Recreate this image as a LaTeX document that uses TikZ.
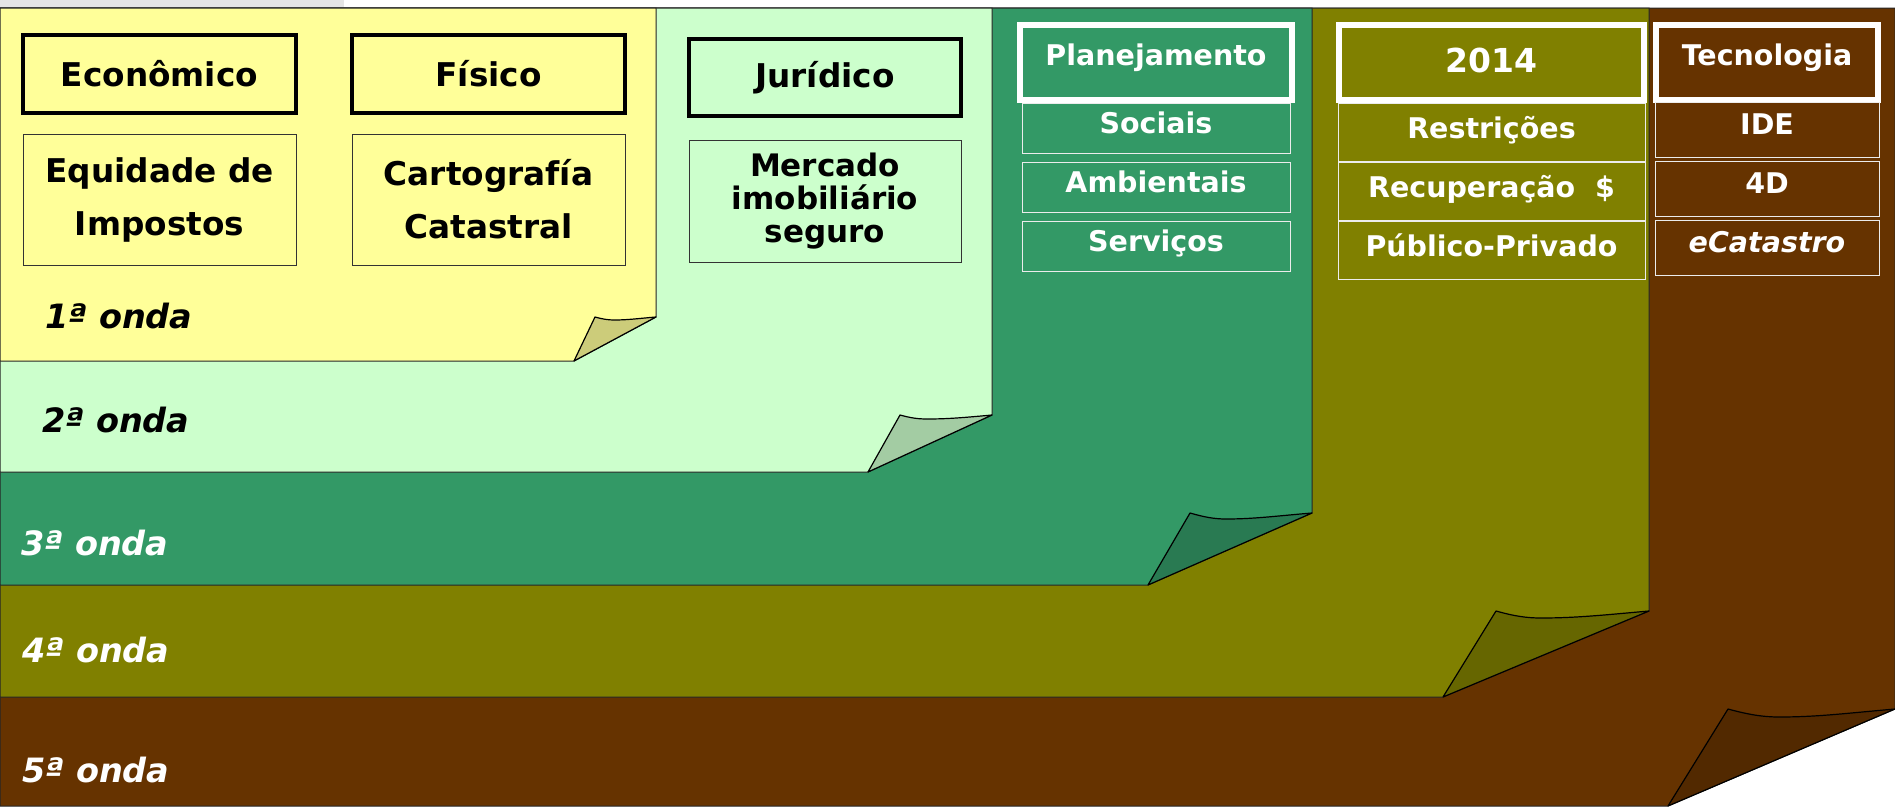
\documentclass[tikz,border=0pt]{standalone}
\usepackage{fontspec}
\setmainfont{DejaVu Sans}
\usepackage{xcolor}
\definecolor{onda1}{HTML}{FFFF99}
\definecolor{onda2}{HTML}{CCFFCC}
\definecolor{onda3}{HTML}{339966}
\definecolor{onda4}{HTML}{808000}
\definecolor{onda5}{HTML}{663300}
\tikzstyle{sheet} = [draw=black!85, line width=1pt]
\tikzstyle{curl} = [draw=black, line width=1.2pt, line join=round]
\tikzstyle{header} = [rectangle, draw=black, line width=4.5pt, minimum width=273pt, minimum height=78pt, inner sep=0pt, font=\fontsize{32.7}{36}\selectfont\bfseries]
\tikzstyle{topic} = [rectangle, draw=black!80, line width=1pt, minimum width=273pt, minimum height=131pt, inner sep=0pt, align=center, font=\fontsize{32.7}{53}\selectfont\bfseries]
\tikzstyle{whitehead} = [rectangle, draw=white, line width=6pt, inner sep=0pt, text=white, text height=40pt, text depth=35pt, font=\fontsize{28.5}{30}\selectfont\bfseries]
\tikzstyle{item} = [rectangle, draw=white!85!gray, line width=1pt, inner sep=0pt, text=white, font=\fontsize{28.5}{30}\selectfont\bfseries]
\tikzstyle{wave} = [anchor=base west, inner sep=0pt, font=\fontsize{33.5}{36}\selectfont\bfseries\itshape]

\begin{document}
\begin{tikzpicture}[x=1pt, y=-1pt]
    \useasboundingbox (0,0) rectangle (1895,806);
    \fill[black!10] (0,0) rectangle (344,7);

    % sheets, back to front
    \draw [sheet, fill=onda5] (0,8) -- (1895,8) -- (1895,709) -- (1668,806) -- (0,806) -- cycle;
    \draw [curl, fill=onda5!80!black] (1668,806) -- (1728,709) .. controls +(20,5.5) and +(-16,0) .. (1779,717) .. controls +(38,0) and +(-50,4.4) .. (1895,709) -- cycle;
    \draw [sheet, fill=onda4] (0,8) -- (1649,8) -- (1649,611) -- (1443,697) -- (0,697) -- cycle;
    \draw [curl, fill=onda4!80!black] (1443,697) -- (1496,611) .. controls +(18,5) and +(-15,0) .. (1541,618) .. controls +(35,0) and +(-45,4) .. (1649,611) -- cycle;
    \draw [sheet, fill=onda3] (0,8) -- (1312,8) -- (1312,513) -- (1148,585) -- (0,585) -- cycle;
    \draw [curl, fill=onda3!80!black] (1148,585) -- (1190,513) .. controls +(14,4) and +(-12,0) .. (1226,519) .. controls +(28,0) and +(-36,3) .. (1312,513) -- cycle;
    \draw [sheet, fill=onda2] (0,8) -- (992,8) -- (992,415) -- (868,472) -- (0,472) -- cycle;
    \draw [curl, fill=onda2!80!black] (868,472) -- (900,415) .. controls +(11,3) and +(-9,0) .. (927,419) .. controls +(21,0) and +(-27,2.5) .. (992,415) -- cycle;
    \draw [sheet, fill=onda1] (0,8) -- (656,8) -- (656,317) -- (574,361) -- (0,361) -- cycle;
    \draw [curl, fill=onda1!80!black] (574,361) -- (595,317) .. controls +(7,2) and +(-6,0) .. (614,320) .. controls +(14,0) and +(-18,1.5) .. (656,317) -- cycle;

    % 1a and 2a onda
    \node (economico) [header] at (159.5,74) {Econômico};
    \node (fisico) [header, right of=economico, node distance=329pt] {Físico};
    \node (impostos) [topic, below of=economico, node distance=125.5pt] {Equidade de\\Impostos};
    \node (cartografia) [topic, below of=fisico, node distance=125.5pt] {Cartografía\\Catastral};
    \node (juridico) [header, minimum width=272pt, minimum height=77pt] at (825,77.5) {Jurídico};
    \node (mercado) [topic, minimum width=272pt, minimum height=122pt, font=\fontsize{31}{33}\selectfont\bfseries, below of=juridico, node distance=123.5pt] {Mercado\\imobiliário\\seguro};

    % 3a onda
    \node (planejamento) [whitehead, minimum width=272pt] at (1156,62.5) {Planejamento};
    \node (sociais) [item, minimum width=268pt, text height=30pt, text depth=20pt, below of=planejamento, node distance=65.5pt] {Sociais};
    \node (ambientais) [item, minimum width=268pt, text height=30pt, text depth=20pt, below of=sociais, node distance=59pt] {Ambientais};
    \node (servicos) [item, minimum width=268pt, text height=30pt, text depth=20pt, below of=ambientais, node distance=59pt] {Serviços};

    % 4a onda
    \node (ano) [whitehead, minimum width=305pt, text height=47pt, text depth=28pt, font=\fontsize{33}{36}\selectfont\bfseries] at (1491.5,62.5) {2014};
    \node (restricoes) [item, minimum width=307pt, text height=35pt, text depth=23pt, below of=ano, node distance=69.5pt] {Restrições};
    \node (recuperacao) [item, minimum width=307pt, text height=35pt, text depth=23pt, below of=restricoes, node distance=59pt] {Recuperação~~\$};
    \node (publico) [item, minimum width=307pt, text height=35pt, text depth=23pt, below of=recuperacao, node distance=59pt] {Público-Privado};

    % 5a onda
    \node (tecnologia) [whitehead, minimum width=222pt] at (1767,62.5) {Tecnologia};
    \node (ide) [item, minimum width=224pt, text height=32pt, text depth=23pt, below of=tecnologia, node distance=67pt] {IDE};
    \node (quatrod) [item, minimum width=224pt, text height=32pt, text depth=23pt, below of=ide, node distance=59pt] {4D};
    \node (ecatastro) [item, minimum width=224pt, text height=32pt, text depth=23pt, below of=quatrod, node distance=59pt] {\itshape eCatastro};

    % wave labels
    \node (onda1) [wave] at (45,328) {1ª onda};
    \node (onda2) [wave] at (42,432) {2ª onda};
    \node (onda3) [wave, text=white] at (21,555) {3ª onda};
    \node (onda4) [wave, text=white] at (22,662) {4ª onda};
    \node (onda5) [wave, text=white] at (22,782) {5ª onda};
\end{tikzpicture}
\end{document}
